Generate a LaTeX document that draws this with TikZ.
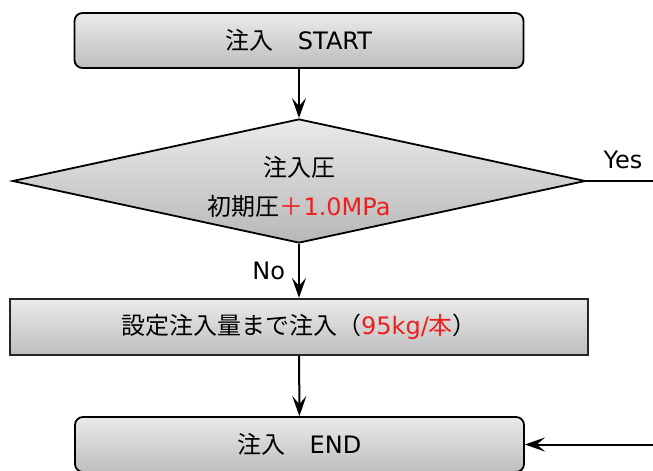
\documentclass[tikz,border=0pt]{standalone}
\usepackage{fontspec}
\setmainfont{DejaVu Sans}
\newfontfamily\jp{Noto Sans CJK JP}
\usetikzlibrary{shapes.geometric,arrows.meta}
\definecolor{boxtop}{RGB}{234,234,234}
\definecolor{boxbot}{RGB}{190,190,190}
\definecolor{redtxt}{RGB}{240,30,30}
\begin{document}
\begin{tikzpicture}[x=1pt,y=-1pt,
  font=\fontsize{24}{39}\selectfont,
  term/.style={draw=black, line width=1.8pt, rounded corners=8pt,
    top color=boxtop, bottom color=boxbot,
    minimum width=449pt, minimum height=55pt, inner sep=0pt},
  procbox/.style={draw=black!85, line width=2.2pt,
    top color=boxtop, bottom color=boxbot,
    minimum width=578pt, minimum height=56pt, inner sep=0pt},
  decision/.style={diamond, draw=black, line width=1.8pt,
    top color=boxtop, bottom color=boxbot!110,
    minimum width=573pt, minimum height=124pt, inner sep=0pt},
  conn/.style={line width=2pt, -{Stealth[length=20pt,width=14pt,inset=8pt]}},
  lbl/.style={inner sep=0pt}]
\useasboundingbox (0,0) rectangle (653,471);

\node[term] (start) at (299,40.5) {{\jp 注入　}START};
\node[decision] (dec) at (299,181) {};
\node[lbl, align=center] (dtext) at (299,186.5)
  {{\jp 注入圧}\\{\jp 初期圧}\textcolor{redtxt}{{\jp ＋}1.0MPa}};
\node[procbox] (proc) at (299,327)
  {{\jp 設定注入量まで注入（}\textcolor{redtxt}{95kg/{\jp 本}}{\jp ）}};
\node[term] (end) at (299.5,444.5) {{\jp 注入　}END};

\coordinate (yesend) at (653,181);
\coordinate (endin) at (653,444.5);

\draw[conn] (start) -- (dec);
\draw[conn] (dec) -- node[lbl, midway, left=13pt] (nolbl) {No} (proc);
\draw[conn] (proc) -- (end);
\draw[line width=1.6pt] (dec.east) -- (yesend);
\node[lbl] (yeslbl) at (623,160) {Yes};
\draw[conn] (endin) -- (end.east);
\end{tikzpicture}
\end{document}
